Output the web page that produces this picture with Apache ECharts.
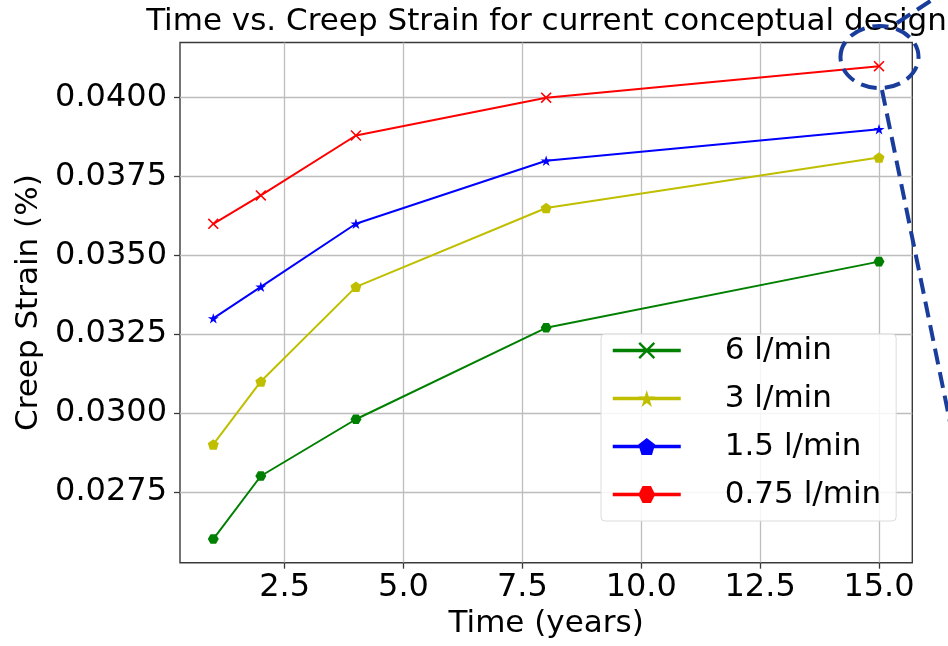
<!DOCTYPE html>
<html>
<head>
<meta charset="utf-8">
<script src="https://cdn.jsdelivr.net/npm/echarts@6/dist/echarts.min.js"></script>
<style>
html,body{margin:0;padding:0;background:#fff;}
#chart{width:948px;height:646px;}
</style>
</head>
<body>
<div id="chart"></div>
<script>
// ---- data ----
const years = [1, 2, 4, 8, 15];
const flow6 = [0.0260, 0.0280, 0.0298, 0.0327, 0.0348];
const flow3 = [0.0290, 0.0310, 0.0340, 0.0365, 0.0381];
const flow1_5 = [0.0330, 0.0340, 0.0360, 0.0380, 0.0390];
const flow0_75 = [0.0360, 0.0369, 0.0388, 0.0400, 0.0410];
const legendNames = ['6 l/min', '3 l/min', '1.5 l/min', '0.75 l/min'];
const xTicks = [2.5, 5.0, 7.5, 10.0, 12.5, 15.0];
const yTicks = [0.0275, 0.0300, 0.0325, 0.0350, 0.0375, 0.0400];

// ---- marker shapes ----
const X_PATH = 'path://M0,2L2,0L10,8L18,0L20,2L12,10L20,18L18,20L10,12L2,20L0,18L8,10Z';
const STAR_PATH = 'path://M0,-10L2.245,-3.09L9.511,-3.09L3.633,1.18L5.878,8.09L0,3.82L-5.878,8.09L-3.633,1.18L-9.511,-3.09L-2.245,-3.09Z';
const PENT_PATH = 'path://M0,-10L9.511,-3.09L5.878,8.09L-5.878,8.09L-9.511,-3.09Z';
const HEX_PATH = 'path://M10,0L5,8.66L-5,8.66L-10,0L-5,-8.66L5,-8.66Z';

const GREEN = '#008000', YELLOW = '#bfbf00', BLUE = '#0000ff', RED = '#ff0000';
const FONT = 'DejaVu Sans';

function pairs(vals) { return years.map((x, i) => [x, vals[i]]); }

function dataSeries(name, vals, color, symbol) {
  return {
    name: name, type: 'line', data: pairs(vals),
    symbol: symbol, symbolSize: 11, symbolKeepAspect: true,
    lineStyle: { color: color, width: 2 },
    itemStyle: { color: color, borderWidth: 0 },
    emphasis: { disabled: true }, z: 3
  };
}
function legendSeries(name, color, symbol) {
  return {
    name: name, type: 'line', data: [],
    symbol: symbol, symbolKeepAspect: true,
    lineStyle: { color: color, width: 3.5 },
    itemStyle: { color: color, borderWidth: 0 }
  };
}

const chart = echarts.init(document.getElementById('chart'), null, { renderer: 'canvas' });
const annotColor = '#1a3d9c';
chart.setOption({
  animation: false,
  backgroundColor: '#ffffff',
  title: {
    text: 'Time vs. Creep Strain for current conceptual design',
    left: 546.5, top: 6, textAlign: 'center', padding: 0,
    textStyle: { fontFamily: FONT, fontSize: 31, fontWeight: 'normal', color: '#000' }
  },
  grid: {
    left: 180, top: 42.5, right: 35.7, bottom: 83.3,
    show: true, borderColor: '#3a3a3a', borderWidth: 1.4, backgroundColor: 'transparent'
  },
  xAxis: {
    type: 'value', min: 0.3, max: 15.7,
    name: 'Time (years)', nameLocation: 'middle', nameGap: 45,
    nameTextStyle: { fontFamily: FONT, fontSize: 31, color: '#000' },
    axisLine: { show: false },
    axisTick: { show: true, inside: false, length: 6, lineStyle: { color: '#3a3a3a', width: 1.3 }, customValues: xTicks },
    axisLabel: { customValues: xTicks, margin: 9, fontFamily: FONT, fontSize: 32, color: '#000', formatter: v => v.toFixed(1) },
    splitLine: { show: true, lineStyle: { color: '#bdbdbd', width: 1.3 } }
  },
  yAxis: {
    type: 'value', min: 0.02525, max: 0.04175,
    name: 'Creep Strain (%)', nameLocation: 'middle', nameGap: 133,
    nameTextStyle: { fontFamily: FONT, fontSize: 31, color: '#000' },
    axisLine: { show: false },
    axisTick: { show: true, inside: false, length: 6, lineStyle: { color: '#3a3a3a', width: 1.3 }, customValues: yTicks },
    axisLabel: { customValues: yTicks, margin: 13, fontFamily: FONT, fontSize: 32, color: '#000', formatter: v => v.toFixed(4) },
    splitLine: { show: true, lineStyle: { color: '#bdbdbd', width: 1.3 } }
  },
  legend: {
    data: legendNames,
    orient: 'vertical', left: 601, top: 334,
    itemWidth: 68, itemHeight: 21, itemGap: 17,
    padding: [1, 15, 11, 10],
    backgroundColor: 'rgba(255,255,255,0.85)', borderColor: '#dcdcdc', borderWidth: 1, borderRadius: 4,
    selectedMode: false,
    lineStyle: { width: 3.5 },
    textStyle: { fontFamily: FONT, fontSize: 31, lineHeight: 31, color: '#000', padding: [0, 0, 0, 39] }
  },
  series: [
    dataSeries('Q 6 l/min', flow6, GREEN, HEX_PATH),
    dataSeries('Q 3 l/min', flow3, YELLOW, PENT_PATH),
    dataSeries('Q 1.5 l/min', flow1_5, BLUE, STAR_PATH),
    dataSeries('Q 0.75 l/min', flow0_75, RED, X_PATH),
    legendSeries(legendNames[0], GREEN, X_PATH),
    legendSeries(legendNames[1], YELLOW, STAR_PATH),
    legendSeries(legendNames[2], BLUE, PENT_PATH),
    legendSeries(legendNames[3], RED, HEX_PATH)
  ],
  graphic: [
    { type: 'ellipse', z: 100, shape: { cx: 879.5, cy: 57, rx: 39, ry: 31 },
      style: { fill: null, stroke: annotColor, lineWidth: 4, lineDash: [16, 8] } },
    { type: 'line', z: 100, shape: { x1: 897, y1: 23, x2: 950, y2: -12 },
      style: { stroke: annotColor, lineWidth: 4, lineDash: [16, 8] } },
    { type: 'line', z: 100, shape: { x1: 882, y1: 90, x2: 950, y2: 422 },
      style: { stroke: annotColor, lineWidth: 4, lineDash: [16, 8] } }
  ]
});
</script>
</body>
</html>
